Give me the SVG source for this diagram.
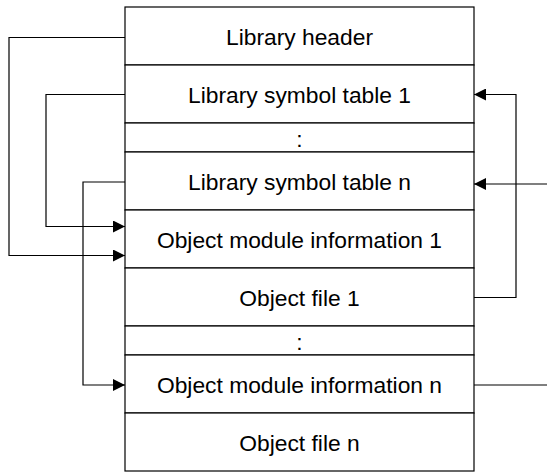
<svg xmlns="http://www.w3.org/2000/svg" width="547" height="472" viewBox="0 0 547 472">
<style>
.cell{fill:#fff;stroke:#000;stroke-width:1.2}
.lbl{font-family:"Liberation Sans",Arial,sans-serif;font-size:22.8px;fill:#000;text-anchor:middle}
.wire{fill:none;stroke:#000;stroke-width:1.2}
</style>
<defs>
<marker id="arr" markerWidth="12" markerHeight="12" refX="12" refY="6" orient="auto" markerUnits="userSpaceOnUse">
<path d="M0,0 L12,6 L0,12 Z" fill="#000"/>
</marker>
</defs>
<g id="n-header"><rect class="cell" x="125" y="7" width="349" height="58"/><text class="lbl" x="299.5" y="45.3">Library header</text></g>
<g id="n-sym1"><rect class="cell" x="125" y="65" width="349" height="58"/><text class="lbl" x="299.5" y="103.3">Library symbol table 1</text></g>
<g id="n-dots1"><rect class="cell" x="125" y="123" width="349" height="29"/><text class="lbl" x="299.5" y="146.8">:</text></g>
<g id="n-symn"><rect class="cell" x="125" y="152" width="349" height="58"/><text class="lbl" x="299.5" y="190.3">Library symbol table n</text></g>
<g id="n-omi1"><rect class="cell" x="125" y="210" width="349" height="58"/><text class="lbl" x="299.5" y="248.3">Object module information 1</text></g>
<g id="n-of1"><rect class="cell" x="125" y="268" width="349" height="58"/><text class="lbl" x="299.5" y="306.3">Object file 1</text></g>
<g id="n-dots2"><rect class="cell" x="125" y="326" width="349" height="29"/><text class="lbl" x="299.5" y="349.8">:</text></g>
<g id="n-omin"><rect class="cell" x="125" y="355" width="349" height="58"/><text class="lbl" x="299.5" y="393.3">Object module information n</text></g>
<g id="n-ofn"><rect class="cell" x="125" y="413" width="349" height="58"/><text class="lbl" x="299.5" y="451.3">Object file n</text></g>
<g id="connectors">
<path class="wire" d="M125,37.5 H9 V255.5 H125" marker-end="url(#arr)"/>
<path class="wire" d="M125,94.5 H46 V226.5 H125" marker-end="url(#arr)"/>
<path class="wire" d="M125,182 H83 V385 H125" marker-end="url(#arr)"/>
<path class="wire" d="M474,297.5 H516 V94.5 H474" marker-end="url(#arr)"/>
<path class="wire" d="M547,184 H474" marker-end="url(#arr)"/>
<path class="wire" d="M474,385 H547"/>
</g>
</svg>
